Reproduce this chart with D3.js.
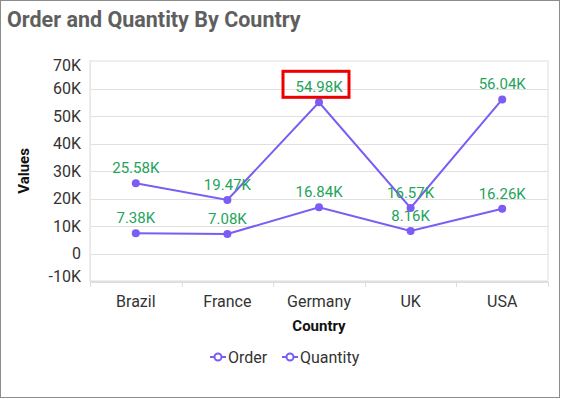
<!DOCTYPE html>
<html>
<head>
<meta charset="utf-8">
<script src="https://cdn.jsdelivr.net/npm/d3@7"></script>
<style>
  html, body { margin: 0; padding: 0; background: #fff; }
  svg { display: block; font-family: Roboto, "Noto Sans", sans-serif; }
</style>
</head>
<body>
<div id="chart"></div>
<script>
// data
const countries = ["Brazil", "France", "Germany", "UK", "USA"];
const orderValues = [7380, 7080, 16840, 8160, 16260];
const quantityValues = [25580, 19470, 54980, 16570, 56040];
const yTicks = [-10000, 0, 10000, 20000, 30000, 40000, 50000, 60000, 70000];
const seriesNames = ["Order", "Quantity"];

const W = 561, H = 399;
const plot = {left: 90, right: 548, top: 61, bottom: 281};
const lineColor = "#7b5cf5", labelColor = "#22a45a";

const fmtK = v => v === 0 ? "0" : (v / 1000) + "K";
const fmtLabel = v => (v / 1000).toFixed(2) + "K";

const svg = d3.select("#chart").append("svg").attr("width", W).attr("height", H);

// outer frame
svg.append("rect").attr("x", 0.5).attr("y", 0.5).attr("width", W - 2).attr("height", H - 2)
   .attr("fill", "#fff").attr("stroke", "#8c8c8c");

svg.append("text").attr("x", 7).attr("y", 27)
   .attr("font-size", 21.5).attr("font-weight", "bold").attr("fill", "#5f5f5f")
   .text("Order and Quantity By Country");

const x = d3.scaleBand().domain(countries).range([plot.left, plot.right]);
const y = d3.scaleLinear().domain([-10000, 70000]).range([plot.bottom, plot.top]);

// plot area border
svg.append("rect").attr("x", plot.left).attr("y", plot.top)
   .attr("width", plot.right - plot.left).attr("height", plot.bottom - plot.top)
   .attr("fill", "none").attr("stroke", "#eeeeee").attr("stroke-width", 2);

// grid
svg.append("g").selectAll("line").data(yTicks.filter(t => t < 70000)).enter().append("line")
   .attr("x1", plot.left).attr("x2", plot.right)
   .attr("y1", d => Math.round(y(d)) + 0.5).attr("y2", d => Math.round(y(d)) + 0.5)
   .attr("stroke", "#e0e0e0");

// y axis
const yAxis = svg.append("g").attr("transform", `translate(${plot.left},0)`)
   .call(d3.axisLeft(y).tickValues(yTicks).tickFormat(fmtK).tickSize(0).tickPadding(9));
yAxis.select(".domain").attr("stroke", "#e6e6e6");
yAxis.selectAll("text").attr("font-size", 16).attr("fill", "#333").attr("font-family", "Roboto")
   .attr("dy", d => d === 70000 ? "0.6em" : d === -10000 ? "0.05em" : "0.32em");

// x axis
const xAxis = svg.append("g").attr("transform", `translate(0,${plot.bottom + 1})`)
   .call(d3.axisBottom(x).tickSize(0).tickPadding(14));
xAxis.select(".domain").attr("stroke", "#dddddd");
xAxis.selectAll("text").attr("font-size", 16).attr("fill", "#333").attr("font-family", "Roboto");
const edges = countries.map(c => x(c)).concat([plot.right]);
svg.append("g").selectAll("line").data(edges).enter().append("line")
   .attr("x1", d => Math.round(d) + 0.5).attr("x2", d => Math.round(d) + 0.5)
   .attr("y1", plot.bottom + 1).attr("y2", plot.bottom + 6).attr("stroke", "#dddddd");

// axis titles
svg.append("text").attr("transform", `translate(29,${(plot.top + plot.bottom) / 2}) rotate(-90)`)
   .attr("text-anchor", "middle").attr("font-size", 15).attr("font-weight", "bold").attr("fill", "#111")
   .text("Values");
svg.append("text").attr("x", (plot.left + plot.right) / 2).attr("y", 331)
   .attr("text-anchor", "middle").attr("font-size", 15).attr("font-weight", "bold").attr("fill", "#111")
   .text("Country");

// series
const cx = c => x(c) + x.bandwidth() / 2;
const line = d3.line().x(d => cx(d.c)).y(d => y(d.v));
[orderValues, quantityValues].forEach(vals => {
  const pts = countries.map((c, i) => ({c: c, v: vals[i]}));
  svg.append("path").datum(pts).attr("d", line)
     .attr("fill", "none").attr("stroke", lineColor).attr("stroke-width", 2);
  svg.append("g").selectAll("circle").data(pts).enter().append("circle")
     .attr("cx", d => cx(d.c)).attr("cy", d => y(d.v)).attr("r", 4).attr("fill", lineColor);
  svg.append("g").selectAll("text").data(pts).enter().append("text")
     .attr("x", d => cx(d.c)).attr("y", d => y(d.v) - 10)
     .attr("text-anchor", "middle").attr("font-size", 15).attr("fill", labelColor)
     .text(d => fmtLabel(d.v));
});

// highlight box round the Germany quantity label
const hx = cx("Germany"), hy = y(quantityValues[2]) - 10;
svg.append("rect").attr("x", hx - 36).attr("y", hy - 21).attr("width", 66).attr("height", 26)
   .attr("fill", "none").attr("stroke", "#ee0000").attr("stroke-width", 3);

// legend
const legendX = [210, 282];
seriesNames.forEach((name, i) => {
  const g = svg.append("g").attr("transform", `translate(${legendX[i]},357)`);
  g.append("line").attr("x1", 0).attr("x2", 16).attr("stroke", lineColor).attr("stroke-width", 2);
  g.append("circle").attr("cx", 8).attr("r", 3.5).attr("fill", "#fff")
   .attr("stroke", lineColor).attr("stroke-width", 2);
  g.append("text").attr("x", 18).attr("y", 5.5).attr("font-size", 16).attr("fill", "#333").text(name);
});
</script>
</body>
</html>
